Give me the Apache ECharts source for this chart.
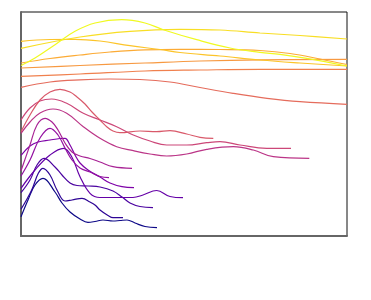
<!DOCTYPE html>
<html><head><meta charset="utf-8">
<script src="https://cdn.jsdelivr.net/npm/echarts@6/dist/echarts.min.js"></script>
<style>html,body{margin:0;padding:0;background:#fff}#c{width:371px;height:300px}</style>
</head><body><div id="c"></div>
<script>
// x: position along the shared horizontal axis, y: height on the vertical axis
const ridge00 = [[0,19.3],[7,36],[14,51],[22,57.7],[34,44],[41,33],[49,24],[59,17],[67,13.7],[74,14.5],[82,16],[92,15],[99,15.5],[106,16],[114,13],[124,9.5],[136,8.3]];
const ridge01 = [[0,26.7],[10.7,46],[17.3,62.7],[22,67.7],[29,61],[36,46],[44,35],[51,36],[61,37.7],[69,34],[74,31],[79,26],[87,20.5],[92,18.3],[102,18.3]];
const ridge02 = [[0,43.3],[9,56],[16,71],[23,77.7],[34,69],[41,61],[49,53],[56,50.5],[67,50],[79,49],[92,45],[101,39],[109,33],[119,29.5],[132,28.3]];
const ridge03 = [[0,47.7],[14,66],[29,81],[42.5,87.7],[50.7,79.3],[59,59.3],[69,42.7],[79,38.5],[99,38.5],[112,38.5],[122,41],[135.7,45.5],[149,39.5],[162,38.3]];
const ridge04 = [[0,80.7],[9,90],[17,94],[29,96],[39,97.5],[44,97.7],[49,91],[54,81],[59,73],[67,66],[79,59],[89,53],[101,49.3],[113,48.3]];
const ridge05 = [[0,60],[9,76],[19,98],[29,107.7],[37,101],[44,88],[51,76],[59,68],[69,64],[79,59.5],[88,58.3]];
const ridge06 = [[0,65.3],[9,91],[16,111],[24,117.7],[31,114],[37,106],[44,93],[51,84],[59,80],[69,77.5],[79,74],[92,69.3],[111,67.7]];
const ridge07 = [[0,102.7],[9,114],[19,123],[32,127],[45.7,122.7],[62.3,109.3],[79,97.7],[95.7,89.3],[112.3,85.3],[129,82],[145.7,80],[165.7,82],[185.7,86.7],[212.3,89.3],[232.3,86],[252.3,79.3],[288.3,77.7]];
const ridge08 = [[0,116],[9,128],[19,135],[30.7,137],[45.7,132.7],[62.3,122.7],[79,116],[95.7,109.3],[112.3,101],[129,95],[145.7,91],[165.7,91],[185.7,93.3],[199,94.3],[219,91],[245.7,87.7],[270,87.7]];
const ridge09 = [[0,104.3],[9,121],[19,136],[29,144],[39,146.7],[49,144],[56,139],[64,132],[71,124],[79,116],[86,109],[92,105],[99,103.3],[119,105],[135.7,104.3],[149,105.3],[165.7,102],[179,98.7],[192.3,97.7]];
const ridge10 = [[0,148.7],[29,154],[59,156.2],[89,157],[119,156.5],[149,154],[179,148.5],[212,142.7],[246,137.7],[279,134.3],[326,131.7]];
const ridge11 = [[0,159.7],[59,162],[124,165],[179,166],[239,166.7],[326,166.7]];
const ridge12 = [[0,168],[59,170.5],[124,173],[179,175],[239,176.2],[326,176.7]];
const ridge13 = [[0,173],[29,177.5],[59,181],[89,184],[124,186.2],[159,186.7],[199,186.5],[239,185.5],[269,182.5],[299,177],[326,171.5]];
const ridge14 = [[0,194.7],[29,196.5],[54,196.7],[79,195],[109,190.3],[139,186.5],[159,183.5],[199,180],[239,176],[279,173],[326,170]];
const ridge15 = [[0,187.7],[59,199],[109,204.7],[159,206.7],[199,206],[239,203],[279,200.5],[326,197]];
const ridge16 = [[0,170.5],[14,178],[34,191.3],[54,204.7],[74,213],[100.7,216.3],[124,213],[142.3,206.3],[175.7,196.3],[209,188],[239,183.7],[259,181.7],[285.7,177.7],[326,170]];

const ridges = [ridge00,ridge01,ridge02,ridge03,ridge04,ridge05,ridge06,ridge07,ridge08,ridge09,ridge10,ridge11,ridge12,ridge13,ridge14,ridge15,ridge16];
const colors = ['#0d0887','#2e0595','#4b03a0','#6501a7','#7e03a8','#9311a1','#a82395','#bb3587','#cc4778','#d9596a','#e56c5c','#f0804e','#f79941','#fcab35','#fcc429','#f8de25','#f0f921'];

const chart = echarts.init(document.getElementById('c'), null, {renderer:'canvas'});
chart.setOption({
  animation:false,
  backgroundColor:'#ffffff',
  grid:{left:21,right:24,top:12,bottom:64,show:true,borderColor:'#111',borderWidth:1,backgroundColor:'transparent'},
  xAxis:{type:'value',min:0,max:326,axisLine:{show:true,onZero:false,lineStyle:{color:'#666',width:2}},axisTick:{show:false},axisLabel:{show:false},splitLine:{show:false}},
  yAxis:{type:'value',min:0,max:224,axisLine:{show:true,onZero:false,lineStyle:{color:'#666',width:2}},axisTick:{show:false},axisLabel:{show:false},splitLine:{show:false}},
  series: ridges.map((d,i)=>({type:'line',data:d,smooth:0.4,showSymbol:false,silent:true,clip:true,
    lineStyle:{color:colors[i],width:1.2},z:2+i}))
});
</script></body></html>
